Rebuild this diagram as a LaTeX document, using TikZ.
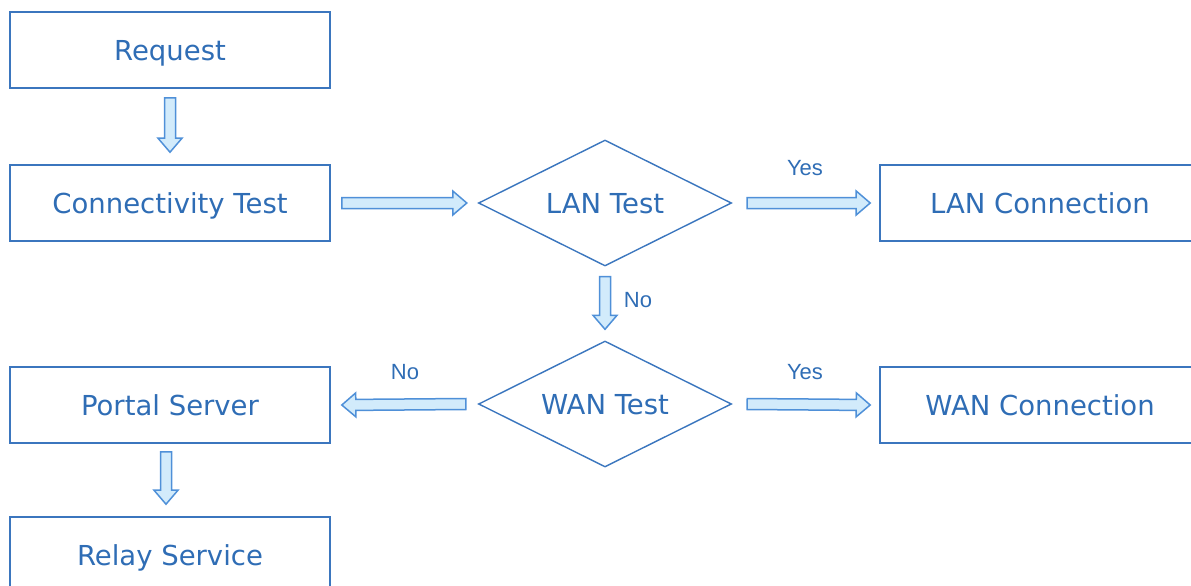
\documentclass[tikz,border=0pt]{standalone}
\usepackage{fontspec}
\setmainfont{DejaVu Sans}
\newfontfamily\lblfont{Liberation Sans}
\usetikzlibrary{shapes.geometric,calc}
\definecolor{txt}{HTML}{2F6DB5}
\definecolor{edgec}{HTML}{3B76BE}
\definecolor{afill}{HTML}{D2EBFB}
\definecolor{aedge}{HTML}{4F90D8}
\newcommand\blockarrow[2]{%
  \draw[barrow] let \p1=($(#2)-(#1)$), \n1={veclen(\x1,\y1)}, \n2={atan2(\y1,\x1)} in
    [shift={(#1)}, rotate=\n2]
    (0,-5.5) -- (\n1-14,-5.5) -- (\n1-14,-12) -- (\n1,0) -- (\n1-14,12) -- (\n1-14,5.5) -- (0,5.5) -- cycle;}
\begin{document}
\begin{tikzpicture}[x=1pt,y=-1pt,
  box/.style={draw=edgec, line width=1.6pt, minimum width=320pt, minimum height=76pt,
    inner sep=0pt, text=txt, text height=20pt, text depth=0pt, font=\fontsize{27.5}{32}\selectfont},
  dec/.style={diamond, aspect=2, draw=edgec, line width=1.4pt, minimum width=253pt, minimum height=126pt,
    inner sep=0pt, text=txt, text height=20pt, text depth=0pt, font=\fontsize{27.5}{32}\selectfont},
  lbl/.style={text=txt, inner sep=0pt, text height=15.7pt, text depth=0pt, font=\lblfont\fontsize{22}{26}\selectfont},
  barrow/.style={draw=aedge, fill=afill, line width=1.5pt, line join=miter}]
\useasboundingbox (0,0) rectangle (1191,586);
\clip (0,0) rectangle (1191,586);

\node[box] (req) at (170,50) {Request};
\node[box] (conn) at (170,203) {Connectivity Test};
\node[dec] (lan) at (605,203) {LAN Test};
\node[box] (lanc) at (1040,203) {LAN Connection};
\node[dec] (wan) at (605,404) {WAN Test};
\node[box] (wanc) at (1040,405) {WAN Connection};
\node[box] (portal) at (170,405) {Portal Server};
\node[box] (relay) at (170,555) {Relay Service};

\node[lbl] (yes1) at (805,168) {Yes};
\node[lbl] (no1) at (638,300) {No};
\node[lbl] (no2) at (405,372) {No};
\node[lbl] (yes2) at (805,372) {Yes};

\coordinate (a1s) at ($(req.south)+(0,9)$);
\coordinate (a1e) at ($(conn.north)+(0,-12)$);
\coordinate (a2s) at ($(conn.east)+(11,0)$);
\coordinate (a2e) at ($(lan.west)+(-11,0)$);
\coordinate (a3s) at ($(lan.east)+(15,0)$);
\coordinate (a3e) at ($(lanc.west)+(-9,0)$);
\coordinate (a4s) at ($(lan.south)+(0,10)$);
\coordinate (a4e) at ($(wan.north)+(0,-11)$);
\coordinate (a5s) at ($(wan.west)+(-12,0)$);
\coordinate (a5e) at ($(portal.east)+(11,0)$);
\coordinate (a6s) at ($(wan.east)+(15,0)$);
\coordinate (a6e) at ($(wanc.west)+(-9,0)$);
\coordinate (a7s) at ($(portal.south)+(-4,8)$);
\coordinate (a7e) at ($(relay.north)+(-4,-12)$);

\blockarrow{a1s}{a1e}
\blockarrow{a2s}{a2e}
\blockarrow{a3s}{a3e}
\blockarrow{a4s}{a4e}
\blockarrow{a5s}{a5e}
\blockarrow{a6s}{a6e}
\blockarrow{a7s}{a7e}
\end{tikzpicture}
\end{document}
